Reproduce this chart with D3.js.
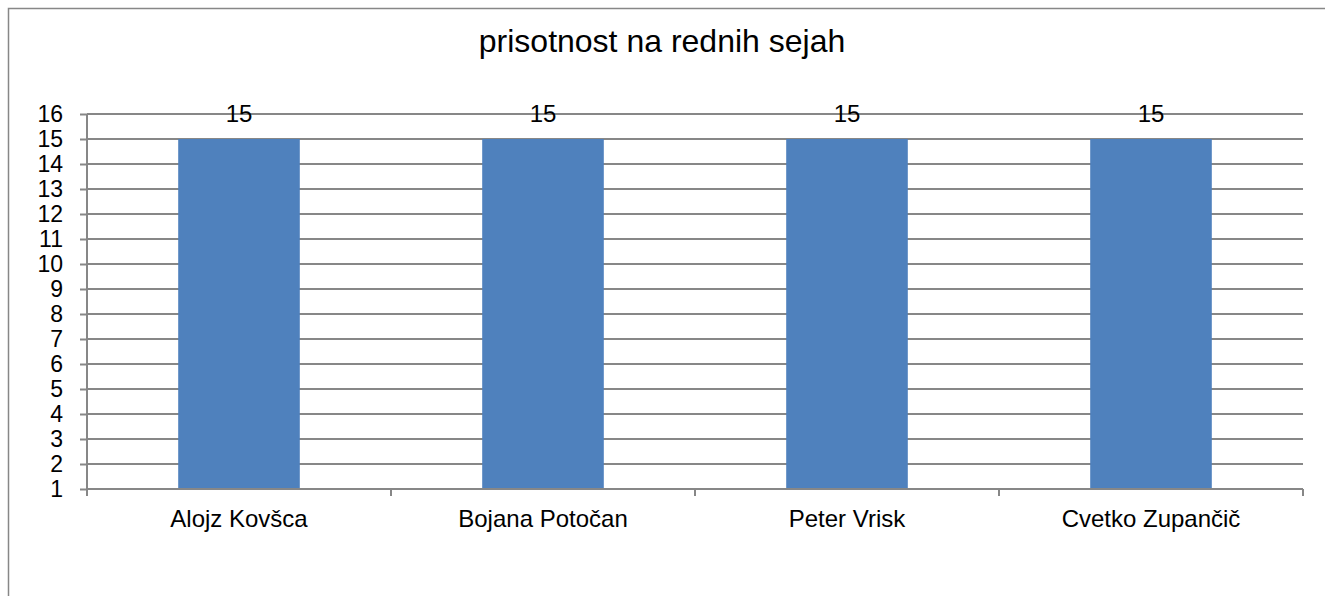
<!DOCTYPE html>
<html>
<head>
<meta charset="utf-8">
<script src="https://cdn.jsdelivr.net/npm/d3@7"></script>
<style>
  body { margin: 0; background: #fff; }
  svg text { font-family: "Liberation Sans", Arial, sans-serif; fill: #000; }
</style>
</head>
<body>
<svg id="chart" width="1325" height="596"></svg>
<script>
// chart data
var title = "prisotnost na rednih sejah";
var names = ["Alojz Kovšca", "Bojana Potočan", "Peter Vrisk", "Cvetko Zupančič"];
var attendance = [15, 15, 15, 15];
var yTicks = [1, 2, 3, 4, 5, 6, 7, 8, 9, 10, 11, 12, 13, 14, 15, 16];

var W = 1325, H = 596;
var plot = { left: 87, right: 1303, top: 114, bottom: 489 };
var gridColor = "#878787";
var barColor = "#4f81bd";

var svg = d3.select("#chart");

// outer frame (bottom and right edges fall outside the view)
svg.append("rect")
    .attr("x", 8.5).attr("y", 8.5)
    .attr("width", W + 20).attr("height", H + 20)
    .attr("fill", "none")
    .attr("stroke", gridColor)
    .attr("stroke-width", 1.5);

svg.append("text")
    .attr("x", 662).attr("y", 52)
    .attr("text-anchor", "middle")
    .style("font-size", "32px")
    .text(title);

var x = d3.scaleBand()
    .domain(names)
    .range([plot.left, plot.right])
    .paddingInner(0.6)
    .paddingOuter(0.3);

var y = d3.scaleLinear()
    .domain([1, 16])
    .range([plot.bottom, plot.top]);

// horizontal grid
svg.append("g")
    .selectAll("line")
    .data(yTicks.slice(1))
    .join("line")
    .attr("x1", plot.left).attr("x2", plot.right)
    .attr("y1", d => y(d)).attr("y2", d => y(d))
    .attr("stroke", gridColor)
    .attr("stroke-width", 2);

// bars
svg.append("g")
    .selectAll("rect")
    .data(attendance)
    .join("rect")
    .attr("x", (d, i) => x(names[i]))
    .attr("width", x.bandwidth())
    .attr("y", d => y(d))
    .attr("height", d => y(1) - y(d))
    .attr("fill", barColor);

// y axis
var yAxis = svg.append("g")
    .attr("transform", "translate(" + plot.left + ",0)")
    .call(d3.axisLeft(y).tickValues(yTicks).tickSize(7).tickPadding(17).tickFormat(d3.format("d")));
yAxis.select(".domain")
    .attr("d", "M0," + plot.top + "V" + (plot.bottom + 7))
    .attr("stroke", gridColor).attr("stroke-width", 2);
yAxis.selectAll(".tick line").attr("stroke", gridColor).attr("stroke-width", 2);
yAxis.selectAll(".tick text")
    .style("font-size", "23px")
    .style("font-family", "'Liberation Sans', Arial, sans-serif")
    .attr("fill", "#000");

// x axis: ticks at band boundaries
var bounds = names.map(n => x(n) - x.step() * x.paddingOuter()).concat([plot.right]);
var xAxis = svg.append("g");
xAxis.append("line")
    .attr("x1", plot.left).attr("x2", plot.right)
    .attr("y1", plot.bottom).attr("y2", plot.bottom)
    .attr("stroke", gridColor).attr("stroke-width", 2);
xAxis.selectAll("line.tk")
    .data(bounds)
    .join("line")
    .attr("class", "tk")
    .attr("x1", d => d).attr("x2", d => d)
    .attr("y1", plot.bottom).attr("y2", plot.bottom + 7)
    .attr("stroke", gridColor).attr("stroke-width", 2);
xAxis.selectAll("text")
    .data(names)
    .join("text")
    .attr("x", d => x(d) + x.bandwidth() / 2)
    .attr("y", 527)
    .attr("text-anchor", "middle")
    .style("font-size", "24px")
    .text(d => d);

// value labels
svg.append("g")
    .selectAll("text")
    .data(attendance)
    .join("text")
    .attr("x", (d, i) => x(names[i]) + x.bandwidth() / 2)
    .attr("y", d => y(d) - 17)
    .attr("text-anchor", "middle")
    .style("font-size", "24px")
    .text(d => d);
</script>
</body>
</html>
